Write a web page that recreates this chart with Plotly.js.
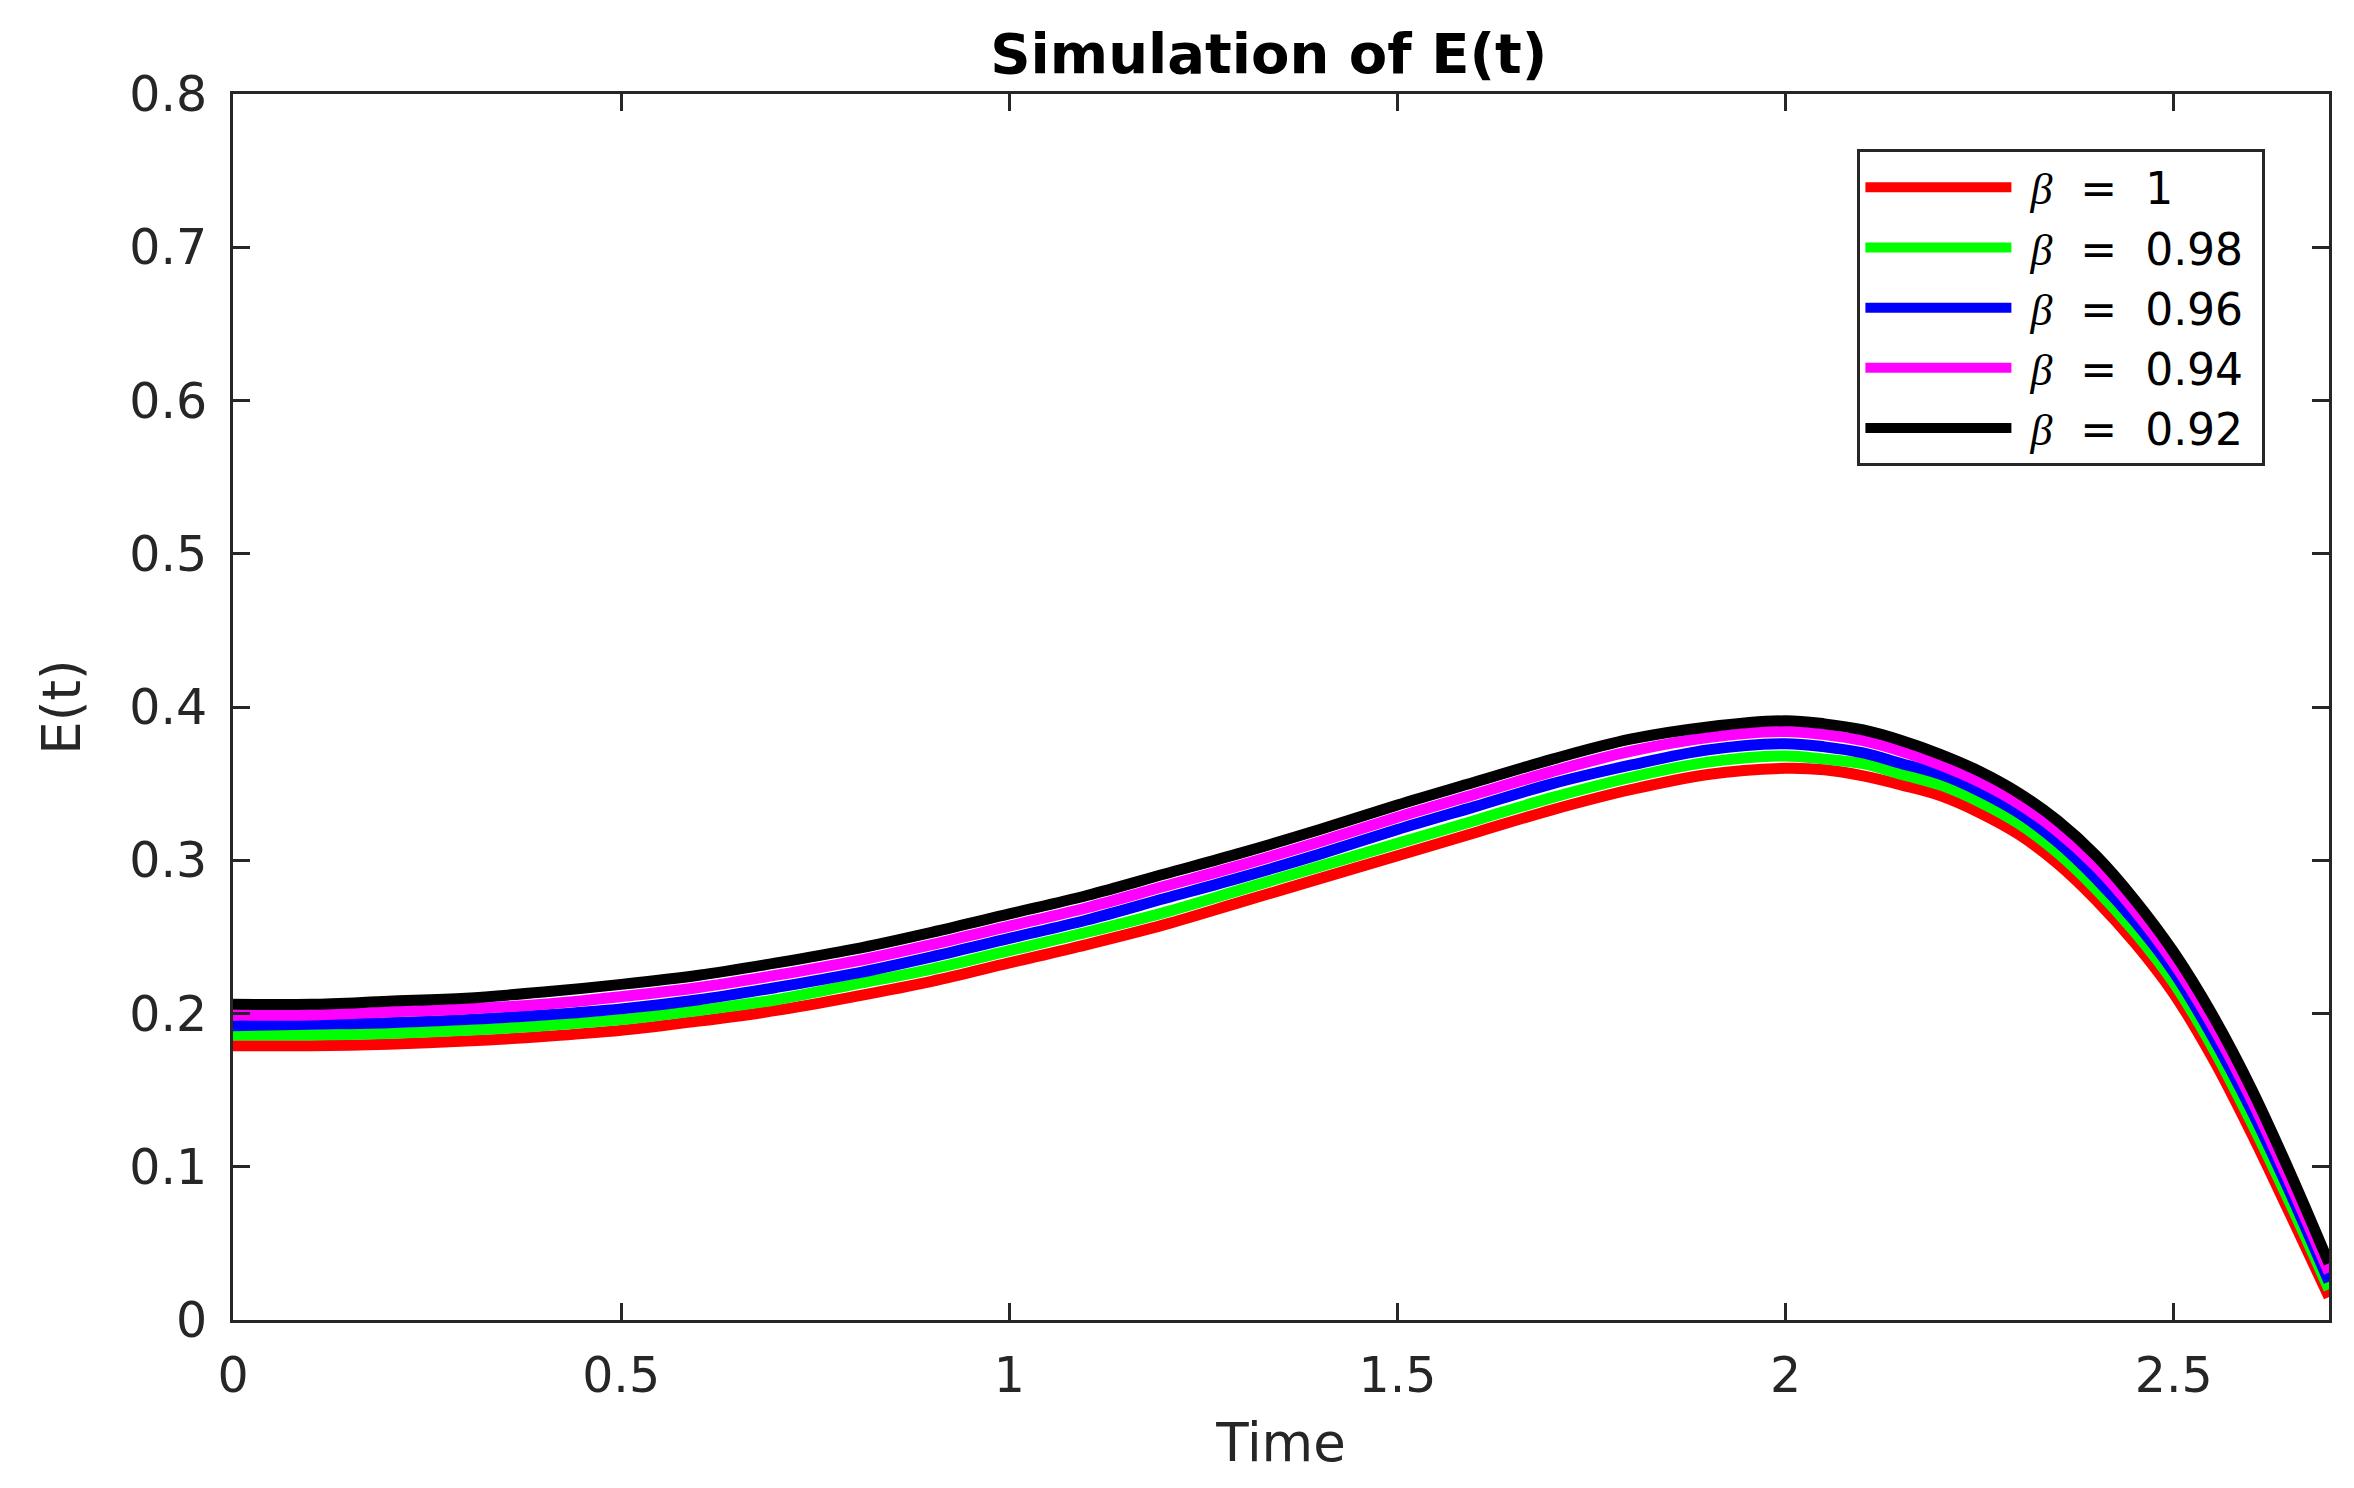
<!DOCTYPE html>
<html>
<head>
<meta charset="utf-8">
<script src="https://cdn.plot.ly/plotly-3.0.1.min.js"></script>
<style>html,body{margin:0;padding:0;background:#fff;}#chart{width:2354px;height:1488px;}</style>
</head>
<body>
<div id="chart"></div>
<script>
// Time samples
const time = [0,0.1,0.2,0.3,0.4,0.5,0.6,0.7,0.8,0.9,1.0,1.1,1.2,1.3,1.4,1.5,1.6,1.7,1.8,1.9,2.0,2.05,2.1,2.15,2.2,2.25,2.3,2.35,2.4,2.45,2.5,2.55,2.6,2.65,2.7];

// E(t) for each beta
const beta100 = [0.179,0.179,0.180,0.182,0.185,0.189,0.195,0.202,0.211,0.221,0.233,0.245,0.258,0.273,0.288,0.303,0.318,0.333,0.346,0.356,0.360,0.359,0.355,0.349,0.342,0.331,0.317,0.298,0.274,0.246,0.213,0.171,0.122,0.069,0.015];
const beta098 = [0.186,0.186,0.187,0.189,0.192,0.196,0.202,0.209,0.219,0.229,0.241,0.253,0.266,0.281,0.296,0.311,0.326,0.341,0.354,0.364,0.368,0.366,0.363,0.356,0.349,0.338,0.324,0.305,0.281,0.253,0.220,0.178,0.129,0.076,0.020];
const beta096 = [0.192,0.193,0.194,0.196,0.199,0.203,0.209,0.217,0.226,0.237,0.249,0.261,0.275,0.289,0.304,0.320,0.335,0.350,0.362,0.372,0.376,0.374,0.370,0.363,0.356,0.345,0.331,0.312,0.288,0.260,0.227,0.185,0.137,0.083,0.025];
const beta094 = [0.199,0.199,0.201,0.203,0.206,0.211,0.217,0.225,0.234,0.245,0.257,0.269,0.283,0.297,0.312,0.328,0.343,0.358,0.371,0.380,0.384,0.382,0.378,0.371,0.362,0.351,0.337,0.319,0.296,0.267,0.233,0.192,0.144,0.089,0.031];
const beta092 = [0.206,0.206,0.208,0.210,0.214,0.219,0.225,0.233,0.242,0.253,0.265,0.277,0.291,0.305,0.320,0.336,0.351,0.366,0.379,0.387,0.391,0.389,0.385,0.378,0.369,0.358,0.344,0.326,0.303,0.274,0.240,0.199,0.151,0.096,0.037];

const seriesNames = ["1","0.98","0.96","0.94","0.92"];
const seriesColors = ["#FF0000","#00FF00","#0000FF","#FF00FF","#000000"];
const seriesValues = [beta100, beta098, beta096, beta094, beta092];

const xTickVals = [0,0.5,1,1.5,2,2.5];
const xTickText = ["0","0.5","1","1.5","2","2.5"];
const yTickVals = [0,0.1,0.2,0.3,0.4,0.5,0.6,0.7,0.8];
const yTickText = ["0","0.1","0.2","0.3","0.4","0.5","0.6","0.7","0.8"];

const axisColor = "#262626";
const font = "DejaVu Sans, Liberation Sans, Arial, sans-serif";
const nb = "\u00A0";

const traces = seriesValues.map((vals, i) => ({
  x: time,
  y: vals,
  type: "scatter",
  mode: "lines",
  line: {color: seriesColors[i], width: 11, shape: "spline", smoothing: 1},
  name: nb + "<span style=\"font-family:'Liberation Serif',serif;font-style:italic\">β</span>" + nb + nb + "=" + nb + nb + seriesNames[i] + nb
}));

const layout = {
  width: 2354,
  height: 1488,
  paper_bgcolor: "#ffffff",
  plot_bgcolor: "#ffffff",
  margin: {l: 233, r: 25, t: 94, b: 168},
  title: {
    text: "<b>Simulation of E(t)</b>",
    font: {family: font, size: 56, color: "#000000"},
    xref: "container", x: 0.539, xanchor: "center",
    yref: "container", y: 0.964, yanchor: "middle"
  },
  xaxis: {
    range: [0, 2.7],
    tickvals: xTickVals,
    ticktext: xTickText,
    showgrid: false,
    zeroline: false,
    showline: true,
    linecolor: axisColor,
    linewidth: 3,
    mirror: "ticks",
    ticks: "inside",
    ticklen: 17,
    tickwidth: 3,
    tickcolor: axisColor,
    ticklabelstandoff: 10,
    tickfont: {family: font, size: 49, color: axisColor},
    title: {text: "Time", font: {family: font, size: 53, color: axisColor}, standoff: 22}
  },
  yaxis: {
    range: [0, 0.8],
    tickvals: yTickVals,
    ticktext: yTickText,
    showgrid: false,
    zeroline: false,
    showline: true,
    linecolor: axisColor,
    linewidth: 3,
    mirror: "ticks",
    ticks: "inside",
    ticklen: 17,
    tickwidth: 3,
    tickcolor: axisColor,
    ticklabelstandoff: 13,
    tickfont: {family: font, size: 49, color: axisColor},
    title: {text: "E(t)", font: {family: font, size: 53, color: axisColor}, standoff: 32}
  },
  showlegend: true,
  legend: {
    x: 0.775, y: 0.955,
    xref: "paper", yref: "paper",
    xanchor: "left", yanchor: "top",
    bgcolor: "#ffffff",
    bordercolor: axisColor,
    borderwidth: 3,
    itemwidth: 146,
    font: {family: font, size: 44, color: "#000000"}
  }
};

Plotly.newPlot("chart", traces, layout, {displayModeBar: false, staticPlot: true});
</script>
</body>
</html>
